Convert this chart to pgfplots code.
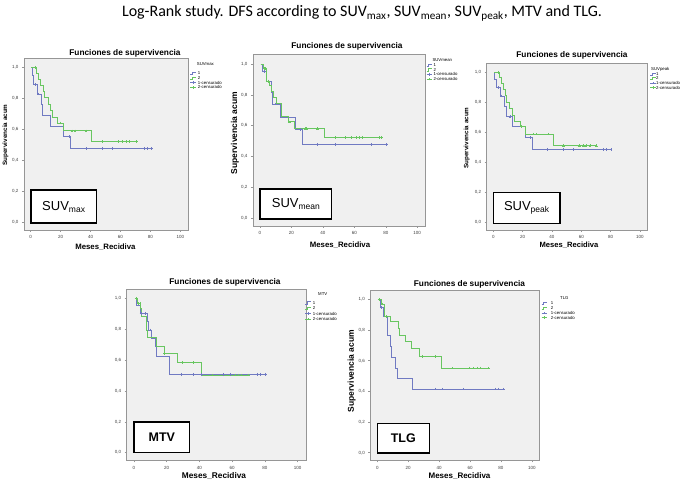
\documentclass[border=0pt]{standalone}
\usepackage{pgfplots}
\pgfplotsset{compat=1.18}
\usepackage{fontspec}
\setmainfont{Liberation Sans}
\newfontfamily\titlefont{Carlito}
\definecolor{kmblue}{RGB}{112,122,194}
\definecolor{kmgreen}{RGB}{104,198,96}
\definecolor{plotbg}{RGB}{240,240,240}
\definecolor{axisgray}{RGB}{150,150,150}
\newcommand\ticksize{\fontsize{4.5}{5}\selectfont}
\newcommand\legsize{\fontsize{4.3}{5}\selectfont}
\newcommand\ctitle{\bfseries\fontsize{8.3}{9}\selectfont}
\pgfplotsset{
 km/.style={
  scale only axis, anchor=south west,
  xmin=-4.5, xmax=105, ymin=-0.05, ymax=1.06,
  axis background/.style={fill=plotbg},
  axis line style={draw=axisgray, line width=0.6pt},
  xtick={0,20,40,60,80,100}, ytick={0,0.2,0.4,0.6,0.8,1},
  xtick pos=left, ytick pos=left, tick align=outside,
  major tick length=2pt, tick style={draw=axisgray, line width=0.5pt},
  ticklabel style={font=\ticksize, text=black!75},
  /pgf/number format/assume math mode=true,
  yticklabel style={/pgf/number format/.cd, fixed, fixed zerofill, precision=1, use comma},
 },
 bl/.style={const plot, color=kmblue, line width=0.7pt, mark=none},
 gr/.style={const plot, color=kmgreen, line width=0.7pt, mark=none},
 bc/.style={only marks, mark=+, mark size=1.3pt, color=kmblue, mark options={line width=0.5pt}},
 gc/.style={only marks, mark=+, mark size=1.3pt, color=kmgreen, mark options={line width=0.5pt}},
}
% legend: symx, textx, y1, dy, titlex, titley, title
\newcommand{\kmleg}[7]{%
 \node[anchor=west, inner sep=0pt, font=\legsize] at (#5,#6) {#7};
 \draw[kmblue, line width=0.5pt] (#1,#3-1.2) -- (#1+2,#3-1.2) -- (#1+2,#3+1.2) -- (#1+5.5,#3+1.2);
 \node[anchor=west, inner sep=0pt, font=\legsize] at (#2,#3) {1};
 \draw[kmgreen, line width=0.5pt] (#1,#3-#4-1.2) -- (#1+2,#3-#4-1.2) -- (#1+2,#3-#4+1.2) -- (#1+5.5,#3-#4+1.2);
 \node[anchor=west, inner sep=0pt, font=\legsize] at (#2,#3-#4) {2};
 \draw[kmblue, line width=0.5pt] (#1,#3-2*#4) -- (#1+5.5,#3-2*#4) (#1+2.75,#3-2*#4-1.2) -- (#1+2.75,#3-2*#4+1.2);
 \node[anchor=west, inner sep=0pt, font=\legsize] at (#2,#3-2*#4) {1-censurado};
 \draw[kmgreen, line width=0.5pt] (#1,#3-3*#4) -- (#1+5.5,#3-3*#4) (#1+2.75,#3-3*#4-1.2) -- (#1+2.75,#3-3*#4+1.2);
 \node[anchor=west, inner sep=0pt, font=\legsize] at (#2,#3-3*#4) {2-censurado};
}
\newcommand{\suv}[1]{SUV\raisebox{-2.2pt}{\fontsize{8.5}{8.5}\selectfont #1}}
\begin{document}
\begin{tikzpicture}
\useasboundingbox (0pt,0pt) rectangle (685pt,481pt);
\fill[white] (0pt,0pt) rectangle (685pt,481pt);

% ---------- Panel 1: SUVmax ----------
\begin{axis}[km, at={(24pt,251pt)}, width=163.8pt, height=172pt]
\addplot[bl] coordinates {(0.5,1) (1.1,0.946) (1.8,0.888) (4.4,0.828) (7.3,0.763) (7.9,0.688) (13.2,0.62) (21.6,0.553) (26.7,0.477) (80.6,0.477)};
\addplot[gr] coordinates {(0.5,1) (3.5,0.96) (5,0.925) (6.7,0.886) (8.2,0.845) (9.2,0.806) (11.5,0.763) (13.2,0.72) (14.5,0.677) (17.9,0.64) (21.5,0.59) (40.8,0.52) (70.6,0.52)};
\addplot[bc] coordinates {(2.9,0.888) (5.1,0.828) (25.6,0.553) (37,0.477) (47.5,0.477) (54.7,0.477) (75.7,0.477) (77.9,0.477) (80.6,0.477)};
\addplot[gc] coordinates {(2.9,1) (19.5,0.64) (27.5,0.59) (29.5,0.59) (37,0.59) (47.5,0.52) (58.7,0.52) (61.4,0.52) (63.6,0.52) (65.8,0.52) (70.6,0.52)};
\draw[black, line width=1.6pt, fill=white] (axis cs:0,-0.005) rectangle (axis cs:44,0.208);
\node[font=\fontsize{13}{13}\selectfont] at (axis cs:22,0.1) {\suv{max}};
\end{axis}

% ---------- Panel 2: SUVmean ----------
\begin{axis}[km, at={(252.9pt,255pt)}, width=172.2pt, height=171.3pt]
\addplot[bl] coordinates {(0.4,1) (1.7,0.951) (4.2,0.888) (7.0,0.818) (8.0,0.74) (12.7,0.655) (22.2,0.574) (26.9,0.479) (80.5,0.479)};
\addplot[gr] coordinates {(0.4,1) (2.1,0.97) (3.8,0.93) (4.3,0.888) (6.0,0.86) (7.4,0.824) (8.5,0.782) (10.6,0.744) (13.3,0.698) (13.8,0.66) (18.0,0.625) (21.8,0.58) (40.7,0.523) (77.3,0.523)};
\addplot[bc] coordinates {(2.5,0.951) (5.0,0.888) (9.5,0.74) (25.4,0.574) (36.7,0.479) (47.7,0.479) (70.6,0.479) (80.5,0.479)};
\addplot[gc] coordinates {(2.7,0.97) (3.3,0.97) (5.2,0.888) (18.6,0.625) (28.6,0.58) (29.7,0.58) (36.7,0.58) (47.7,0.523) (54.4,0.523) (58.3,0.523) (61,0.523) (63.1,0.523) (65,0.523) (75.6,0.523) (77.3,0.523)};
\draw[black, line width=1.6pt, fill=white] (axis cs:0,-0.005) rectangle (axis cs:45.6,0.19);
\node[font=\fontsize{13}{13}\selectfont] at (axis cs:22.8,0.095) {\suv{mean}};
\end{axis}

% ---------- Panel 3: SUVpeak ----------
\begin{axis}[km, at={(486.7pt,250.8pt)}, width=160.6pt, height=167pt]
\addplot[bl] coordinates {(0.5,1) (0.9,0.953) (1.8,0.9) (4.5,0.842) (7.3,0.776) (8.6,0.704) (13.2,0.638) (21.8,0.567) (26.8,0.487) (80.2,0.487)};
\addplot[gr] coordinates {(0.5,1) (4.1,0.967) (5.2,0.927) (6.8,0.887) (8.0,0.844) (9.1,0.8) (10.9,0.76) (13.2,0.716) (14.3,0.671) (18.2,0.638) (21.6,0.589) (40.9,0.511) (70.5,0.511)};
\addplot[bc] coordinates {(3.4,0.9) (5.7,0.842) (11.4,0.704) (25,0.567) (37,0.487) (47.7,0.487) (54.5,0.487) (75,0.487) (77.3,0.487) (80.2,0.487)};
\addplot[gc] coordinates {(3.4,1) (19.3,0.638) (27.3,0.589) (29.1,0.589) (37.5,0.589) (47.7,0.511) (58.6,0.511) (61.4,0.511) (63.2,0.511) (65.9,0.511) (70.5,0.511)};
\draw[black, line width=1.6pt, fill=white] (axis cs:0,-0.005) rectangle (axis cs:45.5,0.2);
\node[font=\fontsize{13}{13}\selectfont] at (axis cs:22.7,0.1) {\suv{peak}};
\end{axis}

% ---------- Panel 4: MTV ----------
\begin{axis}[km, at={(126.6pt,20.6pt)}, width=179.3pt, height=171.4pt]
\addplot[bl] coordinates {(0.6,1) (1.2,0.957) (3.7,0.9) (8.2,0.849) (9.0,0.795) (10.8,0.74) (12.8,0.687) (13.9,0.622) (21.6,0.508) (80.2,0.508)};
\addplot[gr] coordinates {(0.6,1) (1.8,0.967) (3.7,0.935) (4.7,0.881) (7.3,0.795) (8.4,0.745) (13.5,0.69) (18.6,0.644) (26.2,0.583) (41.2,0.503) (70,0.503)};
\addplot[bc] coordinates {(4.3,0.9) (7.1,0.9) (10,0.795) (28.8,0.508) (36.3,0.508) (41,0.508) (54.7,0.508) (58.8,0.508) (75,0.508) (77,0.508) (80.2,0.508)};
\addplot[gc] coordinates {(1.5,1) (2.6,0.967) (3.6,0.967) (18.6,0.644) (29.6,0.583) (36.3,0.583) (47.6,0.503) (61.8,0.503) (63.5,0.503) (65.3,0.503) (70,0.503)};
\draw[black, line width=1.6pt, fill=white] (axis cs:0,0) rectangle (axis cs:34,0.2);
\node[font=\bfseries\fontsize{12.5}{13}\selectfont] at (axis cs:17,0.1) {MTV};
\end{axis}

% ---------- Panel 5: TLG ----------
\begin{axis}[km, at={(370.4pt,20.6pt)}, width=169.1pt, height=170.2pt]
\addplot[bl] coordinates {(1.1,1) (1.7,0.948) (3.9,0.89) (6.7,0.763) (8.2,0.693) (9.3,0.622) (11.4,0.552) (13.2,0.487) (22.7,0.415) (81.6,0.415)};
\addplot[gr] coordinates {(1.1,1) (2.4,0.97) (4.5,0.89) (8.2,0.857) (13.6,0.813) (14.2,0.765) (18.4,0.726) (22.2,0.678) (27,0.628) (41.7,0.552) (71.9,0.552)};
\addplot[bc] coordinates {(2.8,0.948) (37.4,0.415) (41.7,0.415) (55.7,0.415) (76.2,0.415) (78.4,0.415) (81.6,0.415)};
\addplot[gc] coordinates {(1.1,1) (3.2,0.97) (6,0.89) (29.2,0.628) (37.4,0.628) (48.6,0.552) (59.6,0.552) (62.2,0.552) (64.4,0.552) (66.5,0.552) (71.9,0.552)};
\draw[black, line width=1.6pt, fill=white] (axis cs:0,0) rectangle (axis cs:33.7,0.19);
\node[font=\bfseries\fontsize{12.5}{13}\selectfont] at (axis cs:16.8,0.095) {TLG};
\end{axis}

\begin{scope}[x=1pt,y=1pt]
% main title
\node[font=\titlefont\fontsize{16}{17}\selectfont] at (362,467.5) {Log-Rank study. DFS according to SUV\textsubscript{max}, SUV\textsubscript{mean}, SUV\textsubscript{peak}, MTV and TLG.};
% chart titles
\node[font=\ctitle] at (125,427.7) {Funciones de supervivencia};
\node[font=\ctitle] at (347,434.3) {Funciones de supervivencia};
\node[font=\ctitle] at (572,426) {Funciones de supervivencia};
\node[font=\ctitle] at (225,198.3) {Funciones de supervivencia};
\node[font=\ctitle] at (469.5,197) {Funciones de supervivencia};
% y labels
\node[rotate=90, font=\bfseries\fontsize{6.3}{7}\selectfont] at (5.5,346) {Supervivencia acum};
\node[rotate=90, font=\bfseries\fontsize{8.5}{9}\selectfont] at (235,348) {Supervivencia acum};
\node[rotate=90, font=\bfseries\fontsize{6.3}{7}\selectfont] at (466.7,343) {Supervivencia acum};
\node[rotate=90, font=\bfseries\fontsize{8.5}{9}\selectfont] at (351.7,110) {Supervivencia acum};
% x labels
\node[font=\bfseries\fontsize{7.8}{8}\selectfont] at (105.4,234) {Meses\_Recidiva};
\node[font=\bfseries\fontsize{7.8}{8}\selectfont] at (340,235.7) {Meses\_Recidiva};
\node[font=\bfseries\fontsize{7.6}{8}\selectfont] at (569,235.7) {Meses\_Recidiva};
\node[font=\bfseries\fontsize{8.3}{9}\selectfont] at (214,4.5) {Meses\_Recidiva};
\node[font=\bfseries\fontsize{8}{9}\selectfont] at (459.5,5) {Meses\_Recidiva};
% legends
\kmleg{190}{197.7}{407.7}{4.7}{196.7}{417}{SUVmax}
\kmleg{426.7}{433.3}{416}{4.7}{432.3}{421}{SUVmean}
\kmleg{650}{656}{407}{4.5}{651}{411.7}{SUVpeak}
\kmleg{305}{312.7}{178.3}{5.4}{318}{187}{MTV}
\kmleg{541.7}{550.7}{177.7}{4.8}{560}{182.7}{TLG}
\end{scope}
\end{tikzpicture}
\end{document}
